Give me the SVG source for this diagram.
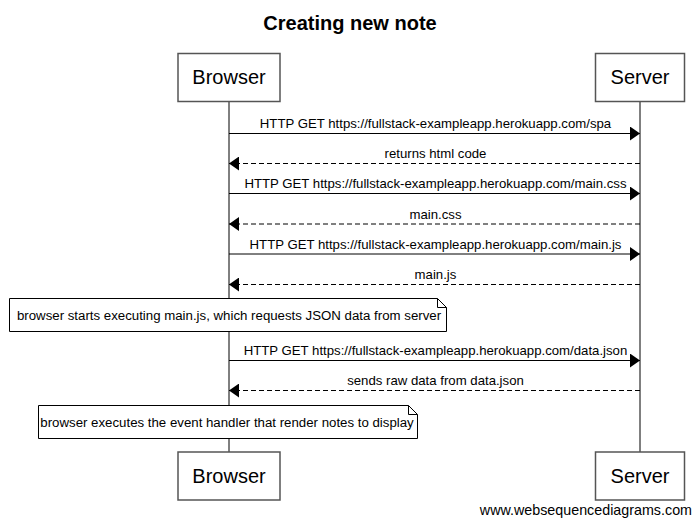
<svg xmlns="http://www.w3.org/2000/svg" width="699" height="524" viewBox="0 0 699 524">
<style>
text{font-family:"Liberation Sans",Arial,sans-serif;fill:#000}
.title{font-size:20px;font-weight:bold;text-anchor:middle}
.actor rect{fill:#fff;stroke:#555;stroke-width:1.5}
.actor text{font-size:20px;text-anchor:middle}
.life{stroke:#000;stroke-width:1}
.msg{stroke:#000;stroke-width:1;fill:none}
.dash{stroke-dasharray:5 3}
.lbl{font-size:13.2px;text-anchor:middle}
.note path{fill:#fff;stroke:#000;stroke-width:1}
.note text{font-size:13.25px;text-anchor:middle}
.wm{font-size:14.3px;text-anchor:end}
</style>
<defs>
<marker id="ah" markerWidth="10" markerHeight="14" refX="10" refY="7" orient="auto" markerUnits="userSpaceOnUse">
<path d="M0,0 L10,7 L0,14 Z" fill="#000"/>
</marker>
</defs>
<rect width="699" height="524" fill="#fff"/>
<text class="title" x="350" y="30">Creating new note</text>
<g id="lifelines">
<line class="life" x1="229" y1="102" x2="229" y2="452"/>
<line class="life" x1="640" y1="102" x2="640" y2="452"/>
</g>
<g id="browser-top" class="actor"><rect x="178" y="53.5" width="102" height="48"/><text x="229" y="84">Browser</text></g>
<g id="server-top" class="actor"><rect x="595.5" y="53.5" width="89" height="48"/><text x="640" y="84">Server</text></g>
<g id="browser-bottom" class="actor"><rect x="178" y="452" width="102" height="48"/><text x="229" y="483">Browser</text></g>
<g id="server-bottom" class="actor"><rect x="595.5" y="452" width="89" height="48"/><text x="640" y="483">Server</text></g>
<g id="connectors">
<line class="msg" x1="229" y1="133.5" x2="640" y2="133.5" marker-end="url(#ah)"/>
<text class="lbl" x="435.5" y="128">HTTP GET https://fullstack-exampleapp.herokuapp.com/spa</text>
<line class="msg dash" x1="640" y1="163.5" x2="229" y2="163.5" marker-end="url(#ah)"/>
<text class="lbl" x="435.5" y="158">returns html code</text>
<line class="msg" x1="229" y1="193.5" x2="640" y2="193.5" marker-end="url(#ah)"/>
<text class="lbl" x="435.5" y="188">HTTP GET https://fullstack-exampleapp.herokuapp.com/main.css</text>
<line class="msg dash" x1="640" y1="224" x2="229" y2="224" marker-end="url(#ah)"/>
<text class="lbl" x="435.5" y="218.5">main.css</text>
<line class="msg" x1="229" y1="254" x2="640" y2="254" marker-end="url(#ah)"/>
<text class="lbl" x="435.5" y="248.5">HTTP GET https://fullstack-exampleapp.herokuapp.com/main.js</text>
<line class="msg dash" x1="640" y1="284.5" x2="229" y2="284.5" marker-end="url(#ah)"/>
<text class="lbl" x="435.5" y="279">main.js</text>
<line class="msg" x1="229" y1="360.5" x2="640" y2="360.5" marker-end="url(#ah)"/>
<text class="lbl" x="435.5" y="355">HTTP GET https://fullstack-exampleapp.herokuapp.com/data.json</text>
<line class="msg dash" x1="640" y1="390.5" x2="229" y2="390.5" marker-end="url(#ah)"/>
<text class="lbl" x="435.5" y="385">sends raw data from data.json</text>
</g>
<g id="note1" class="note">
<path d="M9.5,298.5 H437.5 L446.5,307.5 V331.5 H9.5 Z M437.5,298.5 V307.5 H446.5"/>
<text x="229" y="320">browser starts executing main.js, which requests JSON data from server</text>
</g>
<g id="note2" class="note">
<path d="M38.5,405.5 H408.5 L417.5,414.5 V438.5 H38.5 Z M408.5,405.5 V414.5 H417.5"/>
<text x="227" y="427">browser executes the event handler that render notes to display</text>
</g>
<text class="wm" x="692" y="515">www.websequencediagrams.com</text>
</svg>
